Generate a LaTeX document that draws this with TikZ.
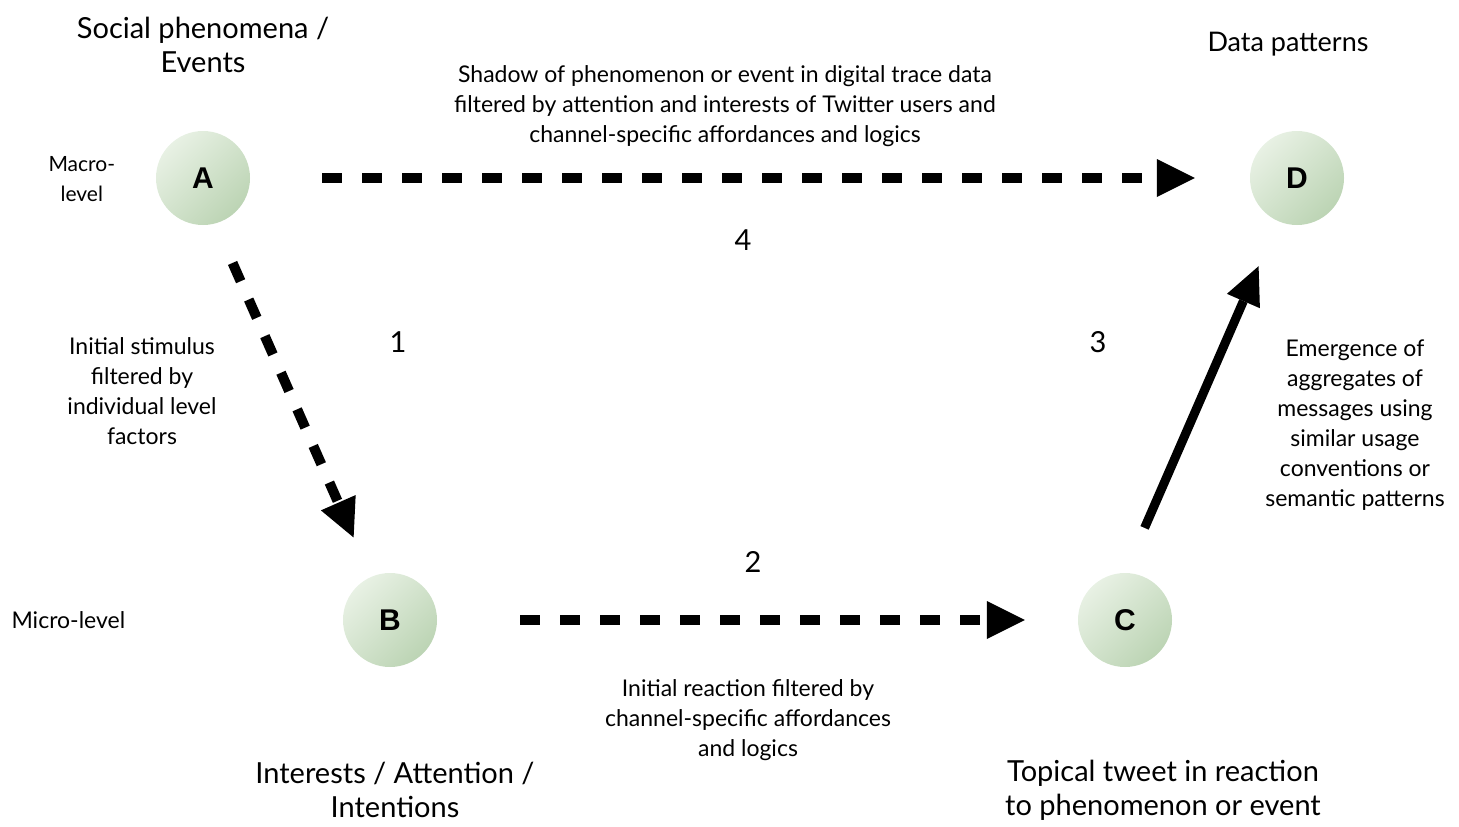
\documentclass[tikz,border=0pt]{standalone}
\usepackage{fontspec}
\setmainfont{Lato}
\newfontfamily\letterfont{Liberation Sans}
\usetikzlibrary{arrows.meta}
\definecolor{nodelight}{HTML}{E8F1E4}
\definecolor{nodedark}{HTML}{BCD4B4}
\tikzset{
  phase/.style={circle, minimum size=94pt, inner sep=0pt, top color=nodelight, bottom color=nodedark, shading angle=45, font=\letterfont\bfseries\fontsize{30}{30}\selectfont},
  heading/.style={align=center, font=\fontsize{29}{34}\selectfont},
  note/.style={align=center, font=\fontsize{23}{30}\selectfont},
  dasharrow/.style={line width=10pt, dash pattern=on 20pt off 20pt, -{Triangle[length=38pt,width=38pt,line width=0pt]}},
  fullarrow/.style={line width=9pt, -{Triangle[length=38pt,width=36pt,line width=0pt]}}
}
\begin{document}
\begin{tikzpicture}[x=1pt,y=-1pt]
\useasboundingbox (0,0) rectangle (1459,827);
\node[phase] (A) at (203,178) {A};
\node[phase] (B) at (390,620) {B};
\node[phase] (C) at (1125,620) {C};
\node[phase] (D) at (1297,178) {D};
\node[heading] (textA) at (203,45) {Social phenomena /\\Events};
\node[heading, font=\fontsize{27}{34}\selectfont] (textD) at (1288,44) {Data patterns};
\node[heading] (textB) at (395,790) {Interests / Attention /\\Intentions};
\node[heading] (textC) at (1163,790) {Topical tweet in reaction\\to phenomenon or event};
\node[note, anchor=west, font=\fontsize{21}{30}\selectfont] (macro) at (45,179) {Macro-\\level};
\node[note, anchor=west] (micro) at (8,620) {Micro-level};
\node[note] (note4) at (725,106) {Shadow of phenomenon or event in digital trace data\\filtered by attention and interests of Twitter users and\\channel-specific affordances and logics};
\node[note] (note1) at (142,391) {Initial stimulus\\filtered by\\individual level\\factors};
\node[note] (note3) at (1355,425) {Emergence of\\aggregates of\\messages using\\similar usage\\conventions or\\semantic patterns};
\node[note] (note2) at (748,720) {Initial reaction filtered by\\channel-specific affordances\\and logics};
\foreach \n/\x/\y in {4/743/240,1/398/342,3/1098/342,2/753/562}
  \node[heading] (num\n) at (\x,\y) {\n};
\draw[dasharrow, shorten <=72pt, shorten >=55pt] (A) -- (D);
\draw[dasharrow, shorten <=43pt, shorten >=43pt] (A.-75) -- (B);
\draw[dasharrow, shorten <=83pt, shorten >=53pt] (B) -- (C);
\draw[fullarrow, shorten <=49pt, shorten >=49pt] (C.north) -- (D);
\end{tikzpicture}
\end{document}
